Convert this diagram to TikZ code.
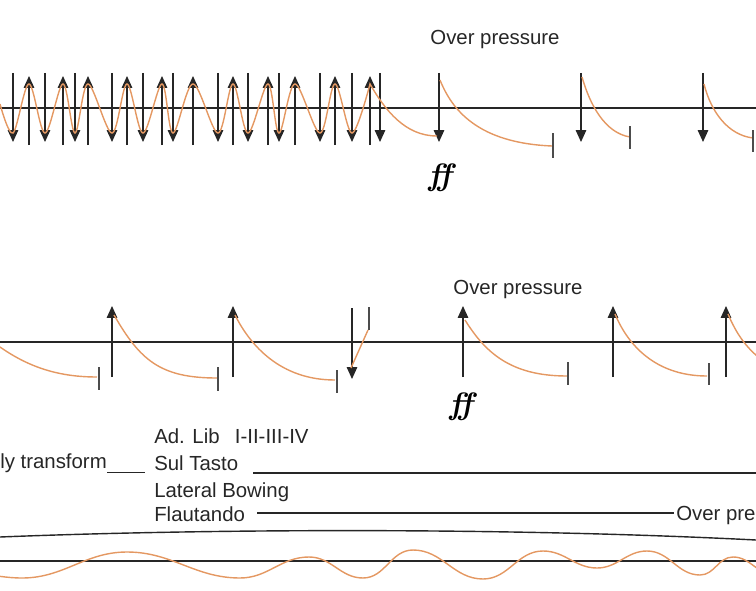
\documentclass[tikz,border=0pt]{standalone}
\usepackage{fontspec}
\setsansfont{Liberation Sans}
\usepackage{tikz}
\usetikzlibrary{calc, arrows.meta, positioning}
\definecolor{bowline}{RGB}{228,152,98}

\begin{document}
\begin{tikzpicture}[x=0.025cm, y=-0.025cm,
    axis/.style={line width=1.3pt, black!85},
    bow/.style={-{Triangle[width=7.5pt,length=8.5pt]}, line width=0.9pt, black!85},
    wave/.style={bowline, line width=1pt},
    endbar/.style={line width=1.4pt, black!70},
    rule/.style={line width=1pt, black!85},
    txt/.style={font=\sffamily\fontsize{14.5}{17}\selectfont, inner sep=0pt, text=black!85},
    dyn/.style={font=\fontsize{22}{22}\selectfont\bfseries\itshape, inner sep=0pt}]
   \useasboundingbox (0,0) rectangle (756,591);
   \clip (0,0) rectangle (756,591);
   \coordinate (topL) at (0,108);
   \coordinate (topR) at (756,108);
   \coordinate (midL) at (0,342);
   \coordinate (midR) at (756,342);
   \coordinate (lowL) at (0,561);
   \coordinate (lowR) at (756,561);
   \draw[axis] (topL) -- (topR);
   \draw[axis] (midL) -- (midR);
   \draw[axis] (lowL) -- (lowR);
   \foreach \x in {13,45,75,112,143,173,218,248,279,320,352,380,439,581,703}
      \draw[bow] (\x,73) -- (\x,142);
   \foreach \x in {29,63,88,127,162,193,233,268,295,335,370}
      \draw[bow] (\x,145) -- (\x,76);
   \draw[wave] plot[smooth, tension=0.55] coordinates {(0,104) (13,133) (29,84) (45,133) (63,84) (75,133) (88,84) (112,133) (127,84) (143,133) (162,84) (173,133) (193,84) (218,133) (233,84) (248,133) (268,84) (279,133) (295,84) (320,133) (335,84) (352,133) (370,84)}
      .. controls (385,110) and (405,136) .. (437,136);
   \draw[wave] (440,80) .. controls (452,110) and (478,143) .. (552,146);
   \draw[wave] (582,77) .. controls (590,105) and (605,133) .. (630,137);
   \draw[wave] (704,84) .. controls (711,112) and (728,135) .. (753,138);
   \draw[endbar] (553,133) -- (553,158);
   \draw[endbar] (630,126) -- (630,149);
   \draw[endbar] (753,130) -- (753,152);
   \node[txt] (over1) at (495,39) {Over pressure};
   \node[dyn] (ff1) at (440,178) {ff};
   \draw[wave] (0,347) .. controls (30,368) and (60,377) .. (97,377);
   \draw[endbar] (99,367) -- (99,390);
   \foreach \x in {112,233,463,613,726}
      \draw[bow] (\x,377) -- (\x,306);
   \draw[bow] (352,308) -- (352,379);
   \draw[wave] (114,315) .. controls (140,360) and (160,378) .. (217,378);
   \draw[endbar] (218,367) -- (218,391);
   \draw[wave] (235,315) .. controls (250,345) and (280,380) .. (335,380);
   \draw[endbar] (337,370) -- (337,393);
   \draw[wave] (351,368) -- (368,330);
   \draw[endbar] (369,307) -- (369,330);
   \draw[wave] (465,320) .. controls (485,352) and (510,376) .. (567,376);
   \draw[endbar] (568,362) -- (568,385);
   \draw[wave] (615,314) .. controls (630,350) and (660,376) .. (707,376);
   \draw[endbar] (709,363) -- (709,385);
   \draw[wave] (728,314) .. controls (736,333) and (746,348) .. (762,360);
   \node[txt] (over2) at (518,289) {Over pressure};
   \node[dyn] (ff2) at (461,407) {ff};
   \node[txt, anchor=base west] (gradual) at (0,468) {ly transform};
   \node[txt, anchor=base west] (adlib) at (154,443) {Ad. Lib\hspace{0.75em}I-II-III-IV};
   \node[txt, anchor=base west] (sul) at (154,470) {Sul Tasto};
   \node[txt, anchor=base west] (lateral) at (154,497) {Lateral Bowing};
   \node[txt, anchor=base west] (flaut) at (154,521) {Flautando};
   \node[txt, anchor=base west] (overpre) at (676,520) {Over pre};
   \draw[rule] (gradual.south east) -- ++(38,0);
   \draw[rule] ($(sul.base east)+(15,3)$) -- (756,473);
   \draw[rule] ($(flaut.base east)+(12,-8)$) -- ($(overpre.base west)+(-2,-7)$);
   \draw[rule] (0,537) .. controls (200,529) and (500,527) .. (756,540);
   \draw[wave] (-20,575) to[out=0,in=180] (22,578) to[out=0,in=180] (127,552)
      to[out=0,in=180] (240,578) to[out=0,in=180] (309,557) to[out=0,in=180] (363,578)
      to[out=0,in=180] (413,550) to[out=0,in=180] (483,579) to[out=0,in=180] (543,551)
      to[out=0,in=180] (597,568) to[out=0,in=180] (647,551) to[out=0,in=180] (700,575)
      to[out=0,in=180] (733,557) to[out=0,in=180] (775,575);
\end{tikzpicture}
\end{document}
